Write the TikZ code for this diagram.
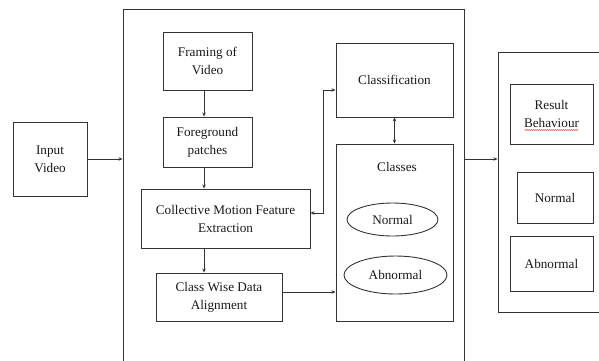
\documentclass[tikz,border=0pt]{standalone}
\usepackage{fontspec}
\setmainfont{Liberation Serif}
\usetikzlibrary{arrows.meta,shapes.geometric,decorations.pathmorphing}

\begin{document}
\begin{tikzpicture}[x=1pt,y=-1pt,
  box/.style = {draw=black!80, line width=0.9pt, rectangle, align=center, inner sep=0pt,
                font=\fontsize{13.2}{18}\selectfont},
  oval/.style = {draw=black!80, line width=0.9pt, ellipse, inner sep=0pt,
                 font=\fontsize{13.2}{18}\selectfont},
  arr/.style = {draw=black!80, line width=0.9pt, -{Stealth[length=4pt,width=3.5pt]}},
  every node/.style = {text=black!90}]
  \useasboundingbox (0,0) rectangle (599,360);

  % outer frames
  \node[box, minimum width=341, minimum height=356] (core) at (293.5,187) {};
  \node[box, minimum width=114, minimum height=260] (result) at (555,182) {};

  \node[box, minimum width=74, minimum height=74] (input) at (50,159) {Input\\Video};

  \node[box, minimum width=89, minimum height=58] (framing) at (207.5,61) {Framing of\\Video};
  \node[box, minimum width=89, minimum height=50] (fg) at (207.5,142) {Foreground\\patches};
  \node[box, minimum width=169, minimum height=59] (cmfe) at (225.5,218.5) {Collective Motion Feature\\Extraction};
  \node[box, minimum width=126, minimum height=48] (cwda) at (219,297) {Class Wise Data\\Alignment};

  \node[box, minimum width=117, minimum height=74] (classif) at (394.5,80) {Classification};
  \node[box, minimum width=117, minimum height=177] (classes) at (394.5,232.5) {};
  \node[font=\fontsize{13.2}{18}\selectfont] (classesLbl) at (397,167) {Classes};
  \node[oval, minimum width=91, minimum height=33] (cnormal) at (392.5,219.5) {Normal};
  \node[oval, minimum width=103, minimum height=38] (cabnormal) at (395.5,275) {Abnormal};

  \node[box, minimum width=83, minimum height=60] (rb) at (551.5,114) {Result\\Behaviour};
  \node[box, minimum width=76, minimum height=51] (rn) at (555,197.5) {Normal};
  \node[box, minimum width=83, minimum height=55] (ra) at (551.5,263.5) {Abnormal};
  \draw[red!80!black, line width=0.4pt, decorate,
        decoration={snake, amplitude=0.5pt, segment length=2pt}]
    ([xshift=-27pt,yshift=-16pt]rb.center) -- ([xshift=27pt,yshift=-16pt]rb.center);

  \coordinate (spine) at (204,0);
  \coordinate (alignOut) at ([yshift=5pt]cwda.east);
  \coordinate (motionOut) at ([yshift=5.5pt]cmfe.east);
  \coordinate (loopTop) at (323,90);

  \draw[arr] (input.east) -- (core.west |- input);
  \draw[arr] (core.east |- input) -- (result.west |- input);
  \draw[arr] (spine |- framing.south) -- (spine |- fg.north);
  \draw[arr] (spine |- fg.south) -- (spine |- cmfe.north);
  \draw[arr] (spine |- cmfe.south) -- (spine |- cwda.north);
  \draw[arr] (alignOut) -- (classes.west |- alignOut);
  \draw[arr, {Stealth[length=4pt,width=3.5pt]}-{Stealth[length=4pt,width=3.5pt]}]
    (classif.south) -- (classes.north);
  \draw[arr, {Stealth[length=4pt,width=3.5pt]}-{Stealth[length=4pt,width=3.5pt]}]
    (motionOut) -| (loopTop) -- (classif.west |- loopTop);
\end{tikzpicture}
\end{document}
